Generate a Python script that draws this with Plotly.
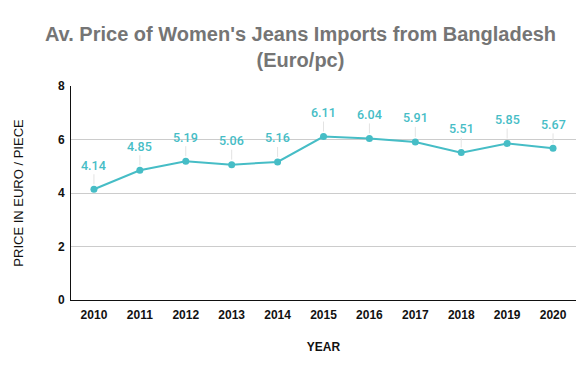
import plotly.graph_objects as go

years = ["2010", "2011", "2012", "2013", "2014", "2015", "2016", "2017", "2018", "2019", "2020"]
prices = [4.14, 4.85, 5.19, 5.06, 5.16, 6.11, 6.04, 5.91, 5.51, 5.85, 5.67]
y_ticks = [0, 2, 4, 6, 8]

teal = "#46BDC6"

fig = go.Figure()
fig.add_trace(go.Scatter(
    x=years, y=prices, mode="lines+markers",
    line=dict(color=teal, width=2),
    marker=dict(color=teal, size=7),
    hoverinfo="skip",
))

for i, p in enumerate(prices):
    fig.add_annotation(
        x=i, y=p, xref="x", yref="y",
        text=f"{p:.2f}", showarrow=True, arrowhead=0, arrowwidth=1,
        arrowcolor="#e3e3e3", ax=0, ay=-24, standoff=5,
        font=dict(family="Roboto", size=12.5, color=teal, weight=500),
    )

fig.update_layout(
    width=585, height=371,
    margin=dict(l=63, r=17, t=78, b=79, autoexpand=False),
    paper_bgcolor="white", plot_bgcolor="white",
    showlegend=False,
    title=dict(
        text="<b>Av. Price of Women's Jeans Imports from Bangladesh<br>(Euro/pc)</b>",
        x=0.5, xanchor="center", y=0.91, yanchor="top",
        font=dict(family="Arial", size=20, color="#757575"),
    ),
)
fig.update_xaxes(
    type="category", range=[-0.5, 10.5], automargin=False,
    showline=True, linecolor="#111111", linewidth=1,
    showgrid=False, ticks="outside", ticklen=4, tickcolor="rgba(0,0,0,0)",
    tickfont=dict(family="Arial", size=12, color="#111111", weight="bold"),
    title=dict(text="<b>YEAR</b>", font=dict(family="Arial", size=12, color="#111111"), standoff=21),
)
fig.update_yaxes(
    range=[0, 8], tickvals=y_ticks, automargin=False,
    showline=True, linecolor="#111111", linewidth=1,
    showgrid=True, gridcolor="#cccccc", zeroline=False,
    ticks="outside", ticklen=3, tickcolor="rgba(0,0,0,0)",
    tickfont=dict(family="Arial", size=12, color="#111111", weight="bold"),
    title=dict(text="PRICE IN EURO / PIECE", font=dict(family="Arial", size=13, color="#111111"), standoff=31),
)

fig.write_html("out.html")
